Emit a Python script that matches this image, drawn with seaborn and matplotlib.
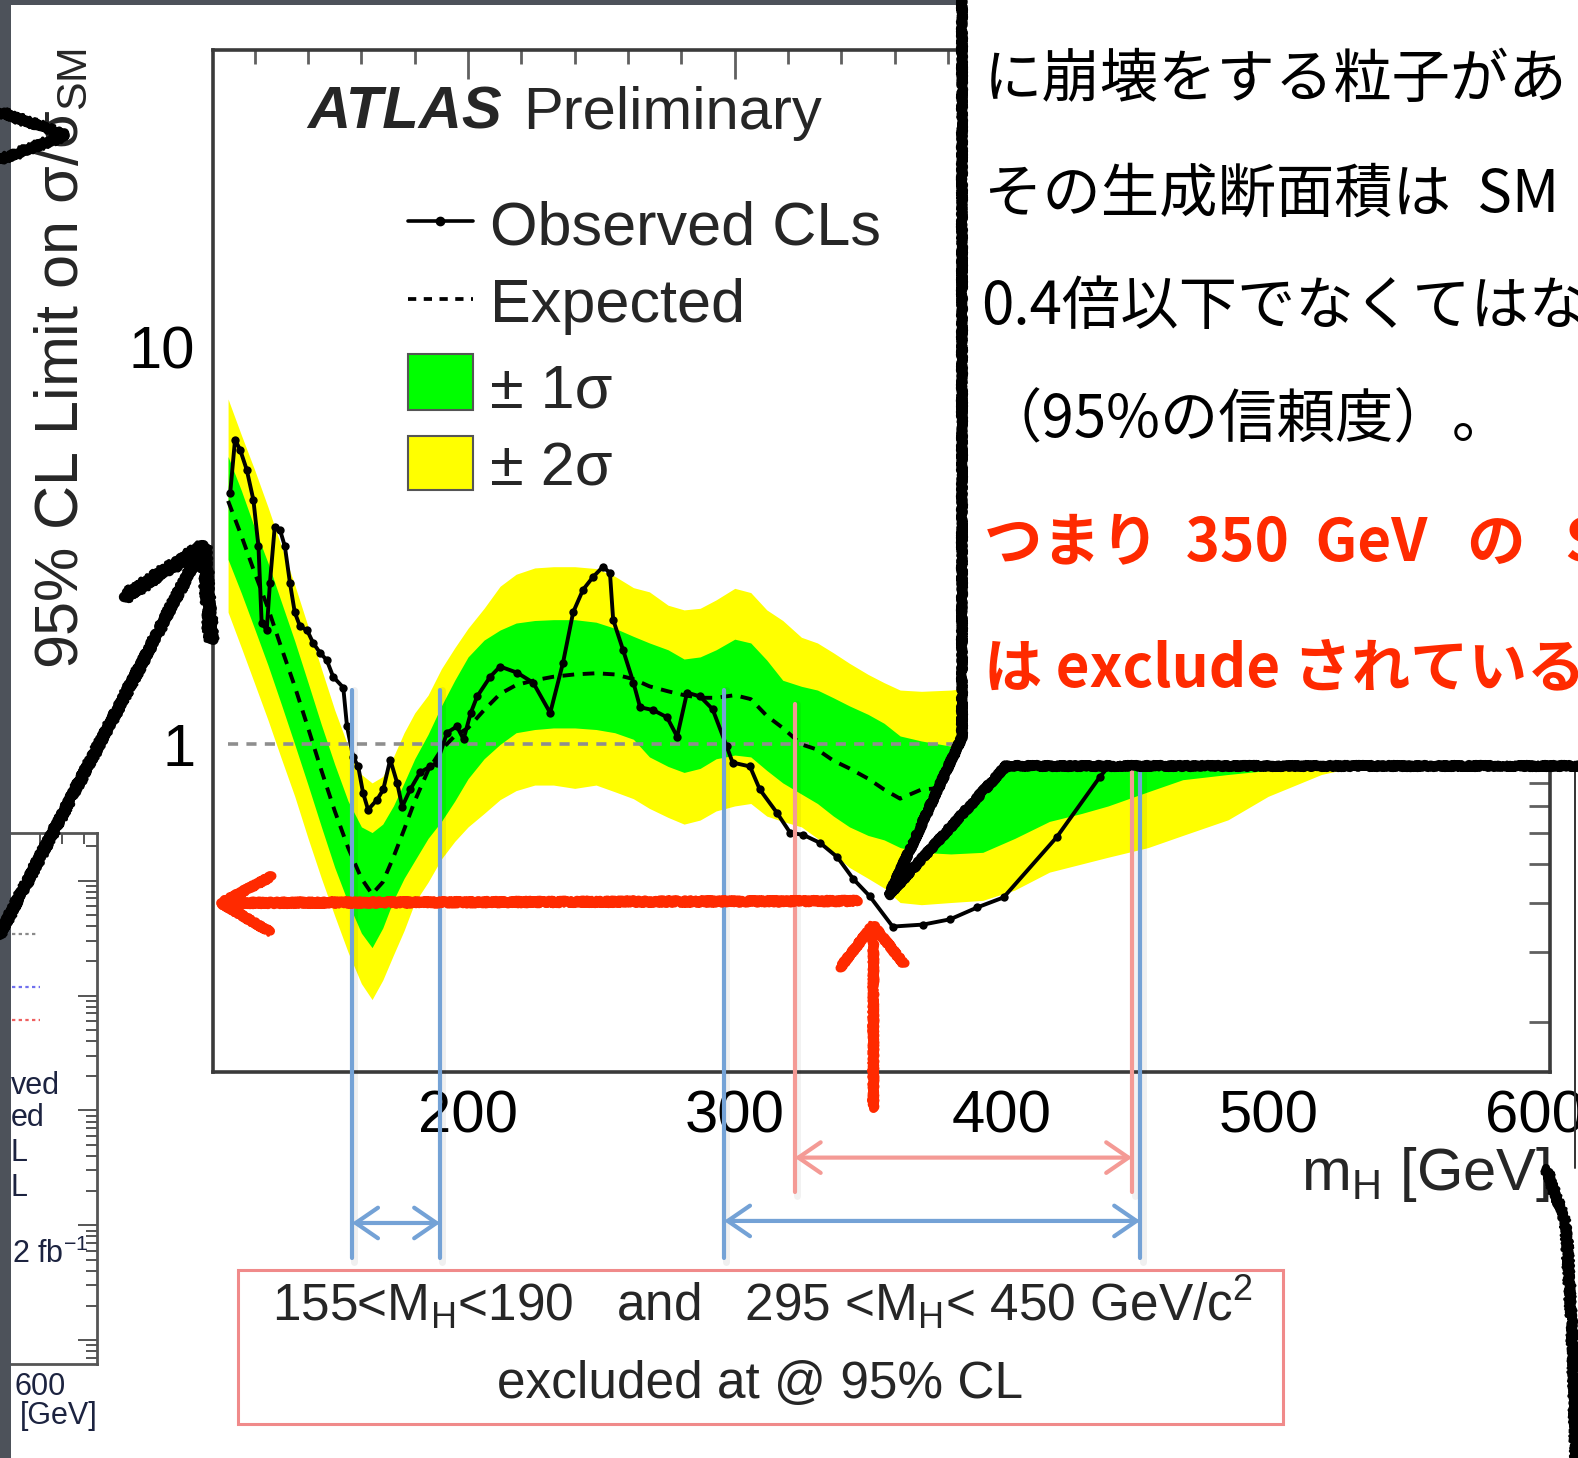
import numpy as np
import pandas as pd
import seaborn as sns
import matplotlib
matplotlib.use("Agg")
import matplotlib.pyplot as plt
from matplotlib.patches import Polygon, Rectangle
from matplotlib.ticker import FixedLocator, MultipleLocator, NullFormatter, FuncFormatter

# ---------------- data ----------------
mass_obs = [110.8, 112.6, 114.5, 117.0, 119.5, 121.4, 122.6, 124.5, 125.7, 127.5,
            129.5, 131.3, 133.2, 135.0, 137.0, 139.6, 141.9, 144.5, 147.0, 149.4,
            153.2, 154.6, 156.9, 158.8, 160.6, 162.5, 165.9, 168.2, 170.8, 173.4,
            175.3, 178.3, 182.0, 185.8, 188.4, 192.1, 195.8, 198.3, 201.0, 203.4,
            208.3, 212.0, 218.4, 224.4, 230.8, 235.6, 239.4, 243.1, 246.9, 250.6,
            253.2, 254.4, 258.1, 262.0, 264.5, 269.4, 274.6, 278.4, 282.1, 287.0,
            291.7, 297.0, 299.2, 305.7, 309.4, 315.8, 320.8, 325.7, 332.0, 338.5,
            344.5, 350.6, 359.2, 370.6, 380.8, 391.0, 400.8, 420.8, 437.0, 450.0]
limit_obs = [4.29, 5.84, 5.52, 4.91, 4.12, 3.15, 2.02, 1.94, 2.55, 3.53,
             3.46, 3.15, 2.55, 2.15, 1.98, 1.94, 1.80, 1.70, 1.63, 1.48,
             1.39, 1.11, 0.93, 0.88, 0.756, 0.685, 0.726, 0.77, 0.916, 0.80,
             0.697, 0.77, 0.85, 0.88, 0.90, 1.07, 1.11, 1.03, 1.20, 1.32,
             1.48, 1.57, 1.515, 1.43, 1.20, 1.605, 2.15, 2.45, 2.64, 2.80,
             2.70, 2.06, 1.73, 1.43, 1.24, 1.22, 1.17, 1.046, 1.35, 1.32,
             1.226, 0.988, 0.90, 0.88, 0.77, 0.673, 0.599, 0.592, 0.565, 0.52,
             0.458, 0.415, 0.348, 0.352, 0.363, 0.389, 0.412, 0.585, 0.83, 1.05]

mass_band = [110, 115, 120, 125, 130, 135, 140, 145, 150, 155,
             160, 164, 168, 172, 176, 180, 185, 190, 195, 200,
             206, 212, 218, 225, 232, 240, 248, 255, 262, 268,
             275, 281, 287, 293, 300, 306, 312, 318, 325, 331,
             337, 343, 350, 356, 362, 370, 381, 393, 405, 418,
             430, 440, 455, 468, 485, 500, 520, 540]
limit_exp = [4.1, 3.35, 2.7, 2.2, 1.75, 1.4, 1.1, 0.86, 0.68, 0.55,
             0.46, 0.42, 0.45, 0.52, 0.61, 0.72, 0.86, 0.97, 1.05, 1.1,
             1.22, 1.34, 1.41, 1.45, 1.48, 1.5, 1.51, 1.5, 1.46, 1.4,
             1.36, 1.33, 1.31, 1.31, 1.33, 1.3, 1.18, 1.1, 1.0, 0.97,
             0.91, 0.87, 0.82, 0.77, 0.73, 0.77, 0.78, 0.8, 0.88, 0.93,
             0.96, 0.98, 1.02, 1.06, 1.12, 1.18, 1.25, 1.3]
band_1s_lo = [2.92, 2.4, 1.95, 1.58, 1.26, 1.0, 0.79, 0.62, 0.49, 0.4,
              0.335, 0.308, 0.345, 0.405, 0.46, 0.51, 0.58, 0.64, 0.72, 0.82,
              0.92, 1.0, 1.07, 1.09, 1.1, 1.1, 1.09, 1.07, 1.03, 0.93,
              0.88, 0.85, 0.87, 0.92, 0.94, 0.93, 0.86, 0.8, 0.75, 0.71,
              0.66, 0.62, 0.59, 0.575, 0.55, 0.535, 0.53, 0.535, 0.58, 0.64,
              0.67, 0.7, 0.76, 0.815, 0.84, 0.86, 0.88, 0.92]
band_1s_hi = [5.3, 4.35, 3.5, 2.86, 2.28, 1.82, 1.43, 1.12, 0.89, 0.72,
              0.62, 0.6, 0.63, 0.7, 0.8, 0.92, 1.06, 1.25, 1.45, 1.66,
              1.83, 1.94, 2.02, 2.05, 2.06, 2.06, 2.03, 1.96, 1.87, 1.8,
              1.73, 1.64, 1.66, 1.73, 1.84, 1.8, 1.63, 1.45, 1.4, 1.37,
              1.31, 1.25, 1.19, 1.13, 1.05, 1.02, 0.99, 1.02, 1.06, 1.12,
              1.18, 1.24, 1.32, 1.38, 1.45, 1.52, 1.6, 1.68]
band_2s_lo = [2.15, 1.75, 1.42, 1.15, 0.92, 0.74, 0.58, 0.46, 0.37, 0.3,
              0.25, 0.228, 0.255, 0.295, 0.34, 0.4, 0.45, 0.515, 0.57, 0.62,
              0.67, 0.726, 0.765, 0.79, 0.79, 0.775, 0.79, 0.76, 0.73, 0.69,
              0.655, 0.63, 0.645, 0.68, 0.7, 0.71, 0.66, 0.64, 0.62, 0.58,
              0.53, 0.49, 0.46, 0.435, 0.4, 0.395, 0.4, 0.405, 0.43, 0.477,
              0.5, 0.52, 0.55, 0.59, 0.646, 0.74, 0.84, 0.9]
band_2s_hi = [7.4, 6.0, 4.9, 3.95, 3.15, 2.52, 1.98, 1.55, 1.22, 0.99,
              0.84, 0.8, 0.83, 0.93, 1.07, 1.2, 1.33, 1.55, 1.75, 1.96,
              2.2, 2.5, 2.68, 2.78, 2.8, 2.8, 2.77, 2.65, 2.48, 2.42,
              2.24, 2.18, 2.2, 2.31, 2.47, 2.41, 2.18, 2.05, 1.86, 1.8,
              1.7, 1.6, 1.5, 1.43, 1.37, 1.36, 1.37, 1.4, 1.45, 1.52,
              1.58, 1.64, 1.72, 1.8, 1.9, 2.0, 2.12, 2.25]

x_major_ticks = [200, 300, 400, 500, 600]
y_major_ticks = [1, 10]
y_minor_ticks = [0.2, 0.3, 0.4, 0.5, 0.6, 0.7, 0.8, 0.9,
                 2, 3, 4, 5, 6, 7, 8, 9, 20, 30, 40, 50]

# hand-drawn exclusion markers on the slide (GeV)
excl_blue = [156.5, 189.5, 296.0, 452.0]
excl_pink = [322.5, 449.0]

legend_labels = ["Observed CLs", "Expected", "± 1σ", "± 2σ"]
box_line1 = r"155<M$_{\rm H}$<190   and   295 <M$_{\rm H}$< 450 GeV/c$^{2}$"
box_line2 = "excluded at @ 95% CL"
bubble_black = ["に崩壊をする粒子があ", "その生成断面積は  SM",
                "0.4倍以下でなくてはな", "（95%の信頼度）。"]
bubble_red = ["つまり  350  GeV   の   S", "は exclude されている"]

# ---------------- style ----------------
sns.set_theme(style="white")
plt.rcParams["font.family"] = ["Liberation Sans", "DejaVu Sans"]
plt.rcParams["mathtext.fontset"] = "custom"
plt.rcParams["mathtext.rm"] = "Liberation Sans"
plt.rcParams["mathtext.it"] = "Liberation Sans:italic"
plt.rcParams["mathtext.bf"] = "Liberation Sans:bold"
CJK = ["Noto Sans CJK JP", "DejaVu Sans"]

W, H = 1578, 1458
fig = plt.figure(figsize=(W / 100, H / 100), dpi=100)
fig.patch.set_facecolor("white")

AX_L, AX_R, AX_T, AX_B = 213.4, 1550.0, 50.3, 1071.8
ax = fig.add_axes([AX_L / W, 1 - AX_B / H, (AX_R - AX_L) / W, (AX_B - AX_T) / H], zorder=2)
ax.set_facecolor("white")
ax.set_yscale("log")
ax.set_xlim(104.5, 605.7)
ax.set_ylim(0.15, 55.8)


def axc(px, py):
    return ((px - AX_L) / (AX_R - AX_L), (AX_B - py) / (AX_B - AX_T))


GREEN, YELLOW = "#00ff00", "#ffff00"
ax.fill_between(mass_band, band_2s_lo, band_2s_hi, color=YELLOW, lw=0, zorder=1)
ax.fill_between(mass_band, band_1s_lo, band_1s_hi, color=GREEN, lw=0, zorder=2)
ax.plot([110, 600], [1, 1], color="#8e8e8e", lw=2.6, linestyle=(0, (2.8, 2.3)), zorder=3)

band_df = pd.DataFrame({"mass": mass_band, "limit": limit_exp})
obs_df = pd.DataFrame({"mass": mass_obs, "limit": limit_obs})
sns.lineplot(data=band_df, x="mass", y="limit", ax=ax, color="black", lw=2.8,
             linestyle=(0, (3.0, 2.2)), estimator=None, sort=False, zorder=4)
sns.lineplot(data=obs_df, x="mass", y="limit", ax=ax, color="black", lw=2.8,
             marker="o", markersize=6, markeredgewidth=0, estimator=None,
             sort=False, zorder=5)

# axes frame and ticks
for s in ax.spines.values():
    s.set_color("#3a3a3a")
    s.set_linewidth(2.6)
ax.xaxis.set_major_locator(FixedLocator(x_major_ticks))
ax.xaxis.set_minor_locator(MultipleLocator(20))
ax.yaxis.set_major_locator(FixedLocator(y_major_ticks))
ax.yaxis.set_minor_locator(FixedLocator(y_minor_ticks))
ax.yaxis.set_major_formatter(FuncFormatter(lambda v, p: f"{v:g}"))
ax.yaxis.set_minor_formatter(NullFormatter())
ax.tick_params(which="both", direction="in", top=True, right=True,
               color="#606060", width=2.0, labelsize=43, labelcolor="black")
ax.xaxis.set_tick_params(which="major", length=21, pad=13)
ax.xaxis.set_tick_params(which="minor", length=10)
ax.yaxis.set_tick_params(which="major", length=30, pad=13)
ax.yaxis.set_tick_params(which="minor", length=15)
ax.set_xlabel("")
ax.set_ylabel("")
ax.text(1.0, axc(0, 1190)[1], r"m$_{\rm H}$ [GeV]", transform=ax.transAxes,
        ha="right", va="baseline", fontsize=43)
fig.text(62.4 / W, 1 - 669 / H, r"95% CL Limit on σ/σ$_{\rm SM}$", rotation=90,
         ha="center", va="bottom", fontsize=44)

# ATLAS label
ax.text(*axc(307, 128.8), "ATLAS", transform=ax.transAxes, fontsize=43,
        fontweight="bold", fontstyle="italic", va="baseline", ha="left")
ax.text(*axc(523, 128.8), "Preliminary", transform=ax.transAxes, fontsize=43,
        va="baseline", ha="left")

# legend
lx0, lx1 = 407.6, 473.0
ly = [221.4, 299.0]
x0, y0 = axc(lx0, ly[0])
x1, _ = axc(lx1, ly[0])
ax.plot([x0, (x0 + x1) / 2, x1], [y0, y0, y0], transform=ax.transAxes, color="black",
        lw=2.6, marker="o", markersize=6, markevery=[1], clip_on=False, zorder=6)
x0, y1 = axc(lx0, ly[1])
ax.plot([x0, x1], [y1, y1], transform=ax.transAxes, color="black", lw=2.7,
        linestyle=(0, (2.2, 2.0)), clip_on=False, zorder=6)
for (top, bot), col in zip([(354.0, 409.6), (435.8, 490.0)], [GREEN, YELLOW]):
    bx, by = axc(lx0, bot)
    bw = (lx1 - lx0) / (AX_R - AX_L)
    bh = (bot - top) / (AX_B - AX_T)
    ax.add_patch(Rectangle((bx, by), bw, bh, transform=ax.transAxes, facecolor=col,
                           edgecolor="#555555", lw=1.5, zorder=6))
for lab, base in zip(legend_labels, [244.5, 322.0, 407.6, 486.0]):
    ax.text(*axc(490, base), lab, transform=ax.transAxes, fontsize=44,
            va="baseline", ha="left", zorder=7)

# exclusion markers below the frame
bt = ax.get_xaxis_transform()
BLUE, PINK = "#74a2d6", "#f49a95"
for xv in excl_blue:
    ax.plot([xv + 0.9, xv + 0.9], [0.374, -0.186], transform=bt, color="#000000",
            alpha=0.06, lw=5.0, clip_on=False, zorder=7)
    ax.plot([xv, xv], [0.374, -0.182], transform=bt, color=BLUE, lw=3.0,
            clip_on=False, zorder=8)
for xv in excl_pink:
    ax.plot([xv + 0.9, xv + 0.9], [0.36, -0.122], transform=bt, color="#000000",
            alpha=0.05, lw=5.0, clip_on=False, zorder=7)
    ax.plot([xv, xv], [0.36, -0.118], transform=bt, color=PINK, lw=3.0,
            clip_on=False, zorder=8)
arrow_style = "<->,head_length=0.8,head_width=0.55"
for a, b, yv, col in [(excl_blue[0], excl_blue[1], -0.148, BLUE),
                      (excl_blue[2], excl_blue[3], -0.146, BLUE),
                      (excl_pink[0], excl_pink[1], -0.084, PINK)]:
    ax.annotate("", xy=(b, yv), xytext=(a, yv), xycoords=bt, textcoords=bt,
                arrowprops=dict(arrowstyle=arrow_style, color=col, lw=3.0,
                                shrinkA=0, shrinkB=0, mutation_scale=20),
                annotation_clip=False, zorder=8)

# ---------------- partial chart at the left edge ----------------
mini = fig.add_axes([-400 / W, 1 - 1364 / H, (97 + 400) / W, (1364 - 833) / H], zorder=1)
mini.set_yscale("log")
mini.set_ylim(0.62, 2.6e4)
mini.set_xlim(200, 651.8)
mini.set_facecolor("white")
for s in mini.spines.values():
    s.set_color("#555555")
    s.set_linewidth(2.0)
mini.set_xticks([600])
mini.set_xticklabels(["600"])
mini.xaxis.set_minor_locator(FixedLocator([620, 640]))
mini.tick_params(axis="y", which="both", left=False, right=True, direction="in",
                 labelleft=False, color="#555555", width=1.4)
mini.tick_params(axis="y", which="major", length=14)
mini.tick_params(axis="y", which="minor", length=8)
mini.tick_params(axis="x", which="both", direction="in", top=True, color="#555555",
                 width=1.4, labelsize=22, labelcolor="#1c2340", pad=6)
mini.tick_params(axis="x", which="major", length=14)
mini.tick_params(axis="x", which="minor", length=8)
mini.yaxis.set_minor_formatter(NullFormatter())

# ---------------- slide overlay (pixel coordinates) ----------------
ov = fig.add_axes([0, 0, 1, 1], zorder=10)
ov.set_xlim(0, W)
ov.set_ylim(H, 0)
ov.axis("off")


def rough(xs, ys, color, lw, scale=1.6, length=3.0, rand=6.0, z=5, fringe=True):
    ln, = ov.plot(xs, ys, color=color, lw=lw, solid_capstyle="round",
                  solid_joinstyle="round", zorder=z)
    ln.set_sketch_params(scale, length, rand)
    if fringe:
        fr, = ov.plot(xs, ys, color=color, lw=lw * 0.45, solid_capstyle="round",
                      solid_joinstyle="round", zorder=z)
        fr.set_sketch_params(scale * 2.6, 1.5, 10.0)
    return ln


# fragments of the left-hand chart legend
for txt, xx, yy in [("ved", 11, 1094), ("ed", 11, 1126), ("L", 11, 1161), ("L", 11, 1196),
                    ("2 fb$^{-1}$", 12, 1263)]:
    ov.text(xx, yy, txt, fontsize=22, color="#1c2340", va="baseline", ha="left", zorder=2)
ov.text(98, 1424, "[GeV]", fontsize=22, color="#1c2340", va="baseline", ha="right", zorder=2)
ov.plot([12, 36], [934, 934], color="#8a8a8a", lw=1.6, linestyle=(0, (1.5, 1.5)), zorder=2)
ov.plot([12, 40], [987, 987], color="#7070ee", lw=1.6, linestyle=(0, (1.5, 1.5)), zorder=2)
ov.plot([12, 40], [1020, 1020], color="#ee6060", lw=1.6, linestyle=(0, (1.5, 1.5)), zorder=2)

# dark slide edges
ov.add_patch(Rectangle((0, 0), 11, H, facecolor="#4d525a", edgecolor="none", zorder=3))
ov.add_patch(Rectangle((0, 0), 962, 5, facecolor="#4d525a", edgecolor="none", zorder=3))

# box with the excluded ranges
ov.add_patch(Rectangle((238.5, 1270), 1283 - 238.5, 1424 - 1270, facecolor="white",
                       edgecolor="#f08a8a", lw=2.2, zorder=4))
ov.text(762, 1322, box_line1, fontsize=37, ha="center", va="baseline", zorder=5)
ov.text(760, 1398, box_line2, fontsize=37, ha="center", va="baseline", zorder=5)

# red hand-drawn arrows
RED = "#ff2a00"
rough([221, 858], [903, 901], RED, 7.0, 1.5, 2.0, 4.0, z=6)
rough([272, 221, 270], [876, 903, 932], RED, 6.5, 1.5, 2.0, 4.0, z=6)
rough([873, 873], [1108, 930], RED, 6.5, 1.5, 2.0, 4.0, z=6)
rough([840, 873, 904], [968, 925, 964], RED, 6.5, 1.5, 2.0, 4.0, z=6)

# black hand-drawn arrows
rough([-6, 66, -6], [110, 135, 162], "black", 6.0, 2.0, 3.0, 6.0, z=6)
rough([-6, 200], [945, 552], "black", 7.0, 2.0, 3.0, 6.0, z=6)
rough([124, 204, 211], [597, 546, 640], "black", 7.5, 2.5, 3.0, 6.0, z=6)
rough([1546, 1566, 1572, 1576], [1168, 1225, 1330, 1460], "black", 6.0, 2.0, 3.0, 6.0, z=6)
ov.plot([1575.5, 1575.5], [766, 1168], color="#333333", lw=1.4, zorder=6)

# speech bubble
bubble_xy = [(962, -30), (962, 737), (889, 895), (1006, 766), (1620, 766), (1620, -30)]
bubble = Polygon(bubble_xy, closed=True, facecolor="white", edgecolor="black", lw=7.0,
                 joinstyle="round", zorder=7)
bubble.set_sketch_params(1.3, 3.0, 6.0)
ov.add_patch(bubble)
edge = Polygon(bubble_xy, closed=True, facecolor="none", edgecolor="black", lw=3.0,
               joinstyle="round", zorder=7)
edge.set_sketch_params(3.5, 1.5, 10.0)
ov.add_patch(edge)

for txt, xx, yy in zip(bubble_black, [984, 984, 981, 984], [97, 211, 324, 437]):
    ov.text(xx, yy, txt, fontsize=42, family=CJK, color="black",
            va="baseline", ha="left", zorder=8)
for txt, yy in zip(bubble_red, [560, 686]):
    ov.text(984, yy, txt, fontsize=42, family=CJK, fontweight="bold", color=RED,
            va="baseline", ha="left", zorder=8)

fig.savefig("out.png", dpi=100, facecolor="white")
